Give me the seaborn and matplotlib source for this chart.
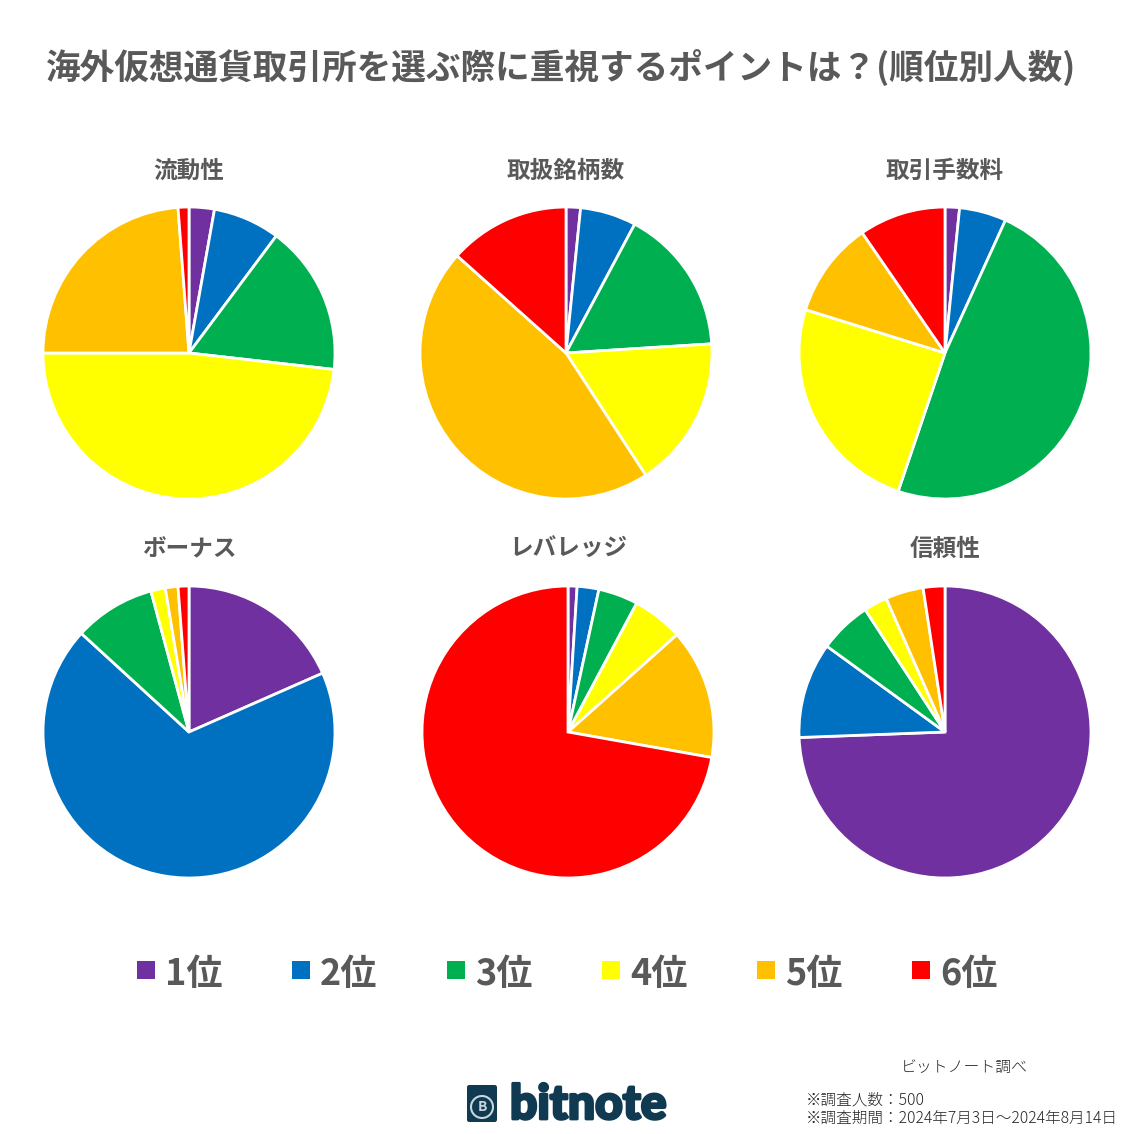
import matplotlib
matplotlib.use("Agg")
import matplotlib.pyplot as plt
import matplotlib.patheffects as pe
from matplotlib.patches import FancyBboxPatch, Rectangle, Ellipse
import seaborn as sns

sns.set_theme(style="white")
plt.rcParams['font.family'] = ['Noto Sans CJK JP', 'DejaVu Sans']

title = "海外仮想通貨取引所を選ぶ際に重視するポイントは？(順位別人数)"
ranks = ["1位", "2位", "3位", "4位", "5位", "6位"]
colors = ["#7030A0", "#0070C0", "#00B050", "#FFFF00", "#FFC000", "#FF0000"]
grey = "#595959"

names = ["流動性", "取扱銘柄数", "取引手数料", "ボーナス", "レバレッジ", "信頼性"]
liquidity = [14, 37, 83, 241, 119, 6]
listings = [8, 31, 81, 84, 229, 67]
fees = [8, 26, 242, 123, 53, 48]
bonus = [92, 342, 45, 8, 7, 6]
leverage = [5, 12, 22, 28, 72, 361]
trust = [372, 53, 29, 13, 21, 12]
values = [liquidity, listings, fees, bonus, leverage, trust]

W = H = 1134
fig = plt.figure(figsize=(W / 100, H / 100), dpi=100, facecolor="white")
sns.set_palette(colors)

centers = [(189, 353), (566, 353), (945, 353), (189, 732), (568, 732), (945, 732)]
title_y = [171, 171, 171, 549, 549, 549]
R = 146
for name, vals, (cx, cy), ty in zip(names, values, centers, title_y):
    ax = fig.add_axes([(cx - R - 2) / W, 1 - (cy + R + 2) / H, (2 * R + 4) / W, (2 * R + 4) / H])
    ax.pie(vals, colors=colors, startangle=90, counterclock=False, radius=R / (R + 2),
           wedgeprops=dict(edgecolor="white", linewidth=2))
    ax.set_xlim(-1, 1)
    ax.set_ylim(-1, 1)
    ax.set_aspect("equal")
    ax.axis("off")
    fig.text(cx / W, 1 - ty / H, name, ha="center", va="center", fontsize=17,
             fontweight="bold", color=grey)

fig.text(561 / W, 1 - 67 / H, title, ha="center", va="center", fontsize=24.95,
         fontweight="bold", color=grey)

leg_x = [146, 301, 456, 611, 766, 921]
for label, col, x in zip(ranks, colors, leg_x):
    fig.patches.append(Rectangle(((x - 9) / W, 1 - 979 / H), 18 / W, 18 / H,
                                 transform=fig.transFigure, facecolor=col, edgecolor="none"))
    fig.text((x + 19) / W, 1 - 974 / H, label, ha="left", va="center", fontsize=26,
             fontweight="bold", color=grey)

fig.text(964 / W, 1 - 1067 / H, "ビットノート調べ", ha="center", va="center",
         fontsize=11.4, fontweight="light", color="#262626")
fig.text(806 / W, 1 - 1100 / H, "※調査人数：500", ha="left", va="center",
         fontsize=11.25, fontweight="light", color="#262626")
fig.text(806 / W, 1 - 1118 / H, "※調査期間：2024年7月3日～2024年8月14日", ha="left", va="center",
         fontsize=11.25, fontweight="light", color="#262626")

navy = "#0F3A52"
fig.patches.append(FancyBboxPatch((467 / W, 1 - 1122 / H), 30 / W, 37 / H,
                                  boxstyle="round,pad=0,rounding_size=0.002",
                                  transform=fig.transFigure, facecolor=navy, edgecolor="none"))
fig.patches.append(Ellipse((482 / W, 1 - 1107 / H), 22 / W, 22 / H,
                           transform=fig.transFigure, facecolor="none",
                           edgecolor="#C9D6DC", linewidth=1.5))
fig.text(482 / W, 1 - 1107 / H, "B", ha="center", va="center", fontsize=10,
         fontweight="bold", color="#C9D6DC")
fig.text(510 / W, 1 - 1105 / H, "bitnote", ha="left", va="center", fontsize=34.5,
         fontweight="black", color=navy, family=["Lato"],
         path_effects=[pe.withStroke(linewidth=2, foreground=navy)])

fig.savefig("out.png", dpi=100, facecolor="white")
